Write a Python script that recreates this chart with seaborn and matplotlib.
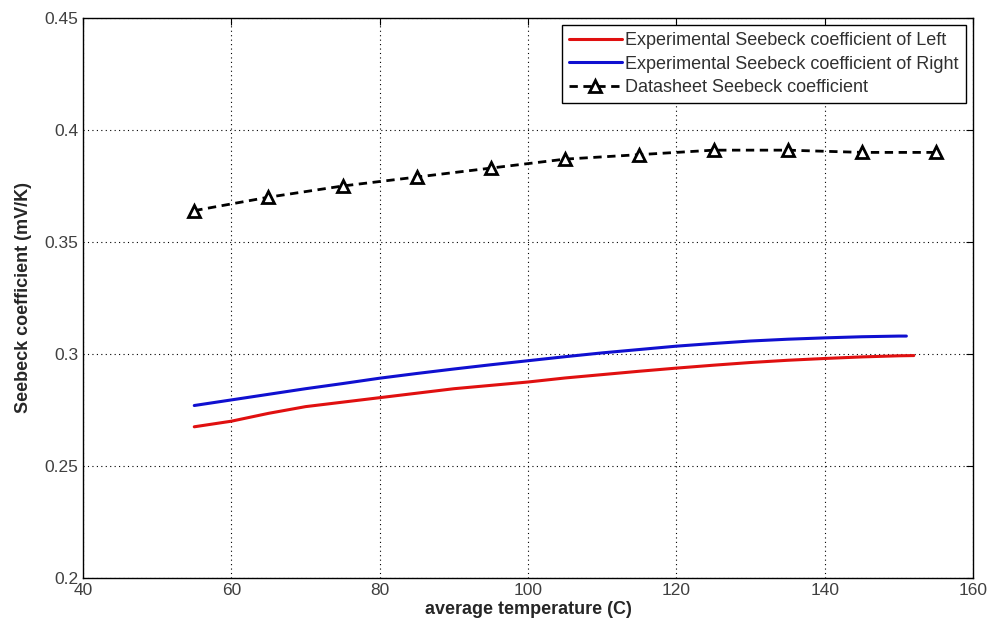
import numpy as np
import pandas as pd
import matplotlib
matplotlib.use('Agg')
import matplotlib.pyplot as plt
import seaborn as sns

# Experimental Seebeck coefficients (mV/K)
temp_left = [55, 60, 65, 70, 75, 80, 85, 90, 95, 100, 105, 110, 115, 120, 125, 130, 135, 140, 145, 150, 152]
seebeck_left = [0.2675, 0.2700, 0.2735, 0.2765, 0.2785, 0.2805, 0.2825, 0.2845, 0.2860, 0.2875, 0.2893,
                0.2908, 0.2923, 0.2937, 0.2950, 0.2962, 0.2972, 0.2980, 0.2987, 0.2992, 0.2993]

temp_right = [55, 60, 65, 70, 75, 80, 85, 90, 95, 100, 105, 110, 115, 120, 125, 130, 135, 140, 145, 150, 151]
seebeck_right = [0.2770, 0.2795, 0.2820, 0.2845, 0.2868, 0.2892, 0.2913, 0.2933, 0.2952, 0.2970, 0.2988,
                 0.3005, 0.3020, 0.3035, 0.3047, 0.3058, 0.3066, 0.3072, 0.3077, 0.3080, 0.3080]

# Datasheet values
temp_sheet = [55, 65, 75, 85, 95, 105, 115, 125, 135, 145, 155]
seebeck_sheet = [0.364, 0.370, 0.375, 0.379, 0.383, 0.387, 0.389, 0.391, 0.391, 0.390, 0.390]

sns.set_style('white')
plt.rcParams['font.family'] = ['Liberation Sans', 'DejaVu Sans']

fig = plt.figure(figsize=(9.94, 6.36), dpi=100)
ax = fig.add_axes([0.0835, 0.0912, 0.8955, 0.8805])

sns.lineplot(x=temp_left, y=seebeck_left, color='#e01010', linewidth=2.2,
             label='Experimental Seebeck coefficient of Left', ax=ax)
sns.lineplot(x=temp_right, y=seebeck_right, color='#1010d0', linewidth=2.2,
             label='Experimental Seebeck coefficient of Right', ax=ax)
sns.lineplot(x=temp_sheet, y=seebeck_sheet, color='black', linewidth=2, linestyle='--',
             marker='^', markersize=9, markerfacecolor='white',
             markeredgecolor='black', markeredgewidth=2,
             label='Datasheet Seebeck coefficient', ax=ax)
ax.lines[-1].set_dashes([3, 2])

ax.set_xlim(40, 160)
ax.set_ylim(0.2, 0.45)
ax.set_xticks(np.arange(40, 161, 20))
ax.set_yticks(np.arange(0.2, 0.451, 0.05))
ax.set_yticklabels(['0.2', '0.25', '0.3', '0.35', '0.4', '0.45'])

ax.grid(True, color='black', linestyle=(0, (1, 3)), linewidth=0.8)
ax.tick_params(direction='in', top=True, right=True, length=5, labelsize=12.5,
               colors='black', labelcolor='#404040')
for s in ax.spines.values():
    s.set_color('black')
    s.set_linewidth(1)

ax.set_xlabel('average temperature (C)', fontsize=13, fontweight='bold', labelpad=2)
ax.set_ylabel('Seebeck coefficient (mV/K)', fontsize=13, fontweight='bold', labelpad=9)

leg = ax.legend(loc='upper right', fontsize=13, frameon=True, fancybox=False,
                borderaxespad=0.4, handlelength=2.9, handletextpad=0.2,
                labelspacing=0.35, borderpad=0.4)
leg.get_frame().set_edgecolor('black')
leg.get_frame().set_linewidth(1)
leg.get_frame().set_alpha(1)
for t in leg.get_texts():
    t.set_color('#303030')

fig.savefig('out.png', dpi=100)
